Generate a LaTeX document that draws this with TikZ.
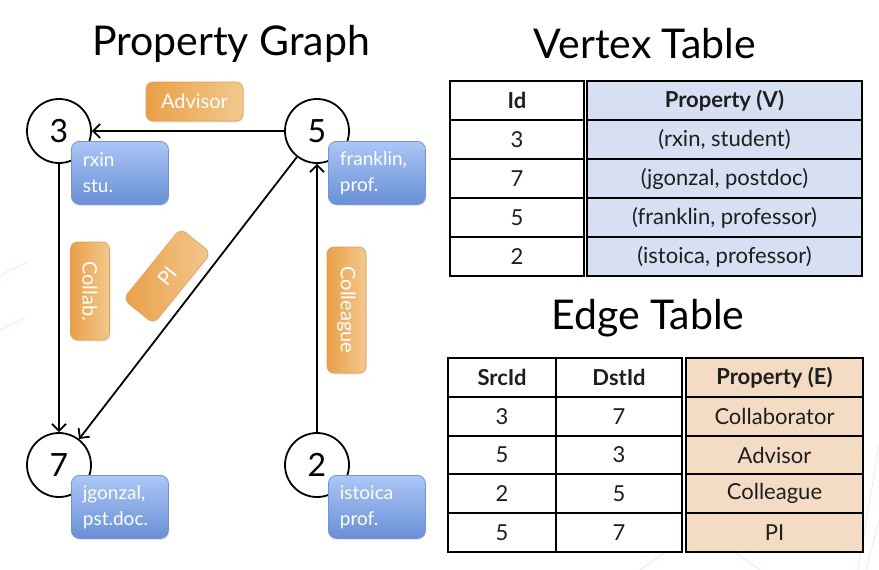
\documentclass[tikz,border=0pt]{standalone}
\usepackage{fontspec}
\setmainfont{Lato}
\usetikzlibrary{arrows.meta,shadows}
\definecolor{vfill}{RGB}{214,224,242}
\definecolor{efill}{RGB}{244,220,196}
\definecolor{bluetop}{RGB}{172,198,246}
\definecolor{bluebot}{RGB}{104,144,214}
\definecolor{blueedge}{RGB}{118,148,208}
\definecolor{orleft}{RGB}{232,160,72}
\definecolor{orright}{RGB}{243,200,142}
\definecolor{oredge}{RGB}{226,158,80}
\definecolor{tabtext}{RGB}{30,30,30}
\definecolor{bgpink}{RGB}{250,215,225}
\tikzset{
  vertex/.style={circle, draw, line width=1.8pt, minimum size=64pt, inner sep=0pt,
    font=\fontsize{32}{36}\selectfont, fill=white},
  propbox/.style={rounded corners=8pt, draw=blueedge, line width=0.8pt,
    top color=bluetop, bottom color=bluebot, text=white, align=left,
    font=\fontsize{19}{26}\selectfont, minimum width=97pt, minimum height=63pt,
    text width=74pt, inner xsep=11pt, anchor=north west,
    drop shadow={opacity=0.2, shadow xshift=0.8pt, shadow yshift=-1.5pt}},
  elabel/.style={rounded corners=7pt, draw=oredge, line width=0.6pt,
    left color=orleft, right color=orright, text=white,
    font=\fontsize{20}{24}\selectfont, inner sep=0pt, minimum height=39pt,
    drop shadow={opacity=0.2, shadow xshift=0.8pt, shadow yshift=-1.5pt}},
  conn/.style={-{Straight Barb[length=7pt,width=14pt]}, line width=1.8pt},
  title/.style={font=\fontsize{41}{44}\selectfont},
  tline/.style={line width=1.4pt},
  th/.style={font=\fontsize{22}{24}\selectfont\bfseries, text=tabtext},
  td/.style={font=\fontsize{22}{24}\selectfont, text=tabtext},
  bgline/.style={draw=bgpink, line width=0.8pt, opacity=0.7},
}
\begin{document}
\begin{tikzpicture}[x=1pt,y=-1pt]
\useasboundingbox (0,0) rectangle (879,570);
\fill[white] (0,0) rectangle (879,570);

% faint background strokes of the slide template
\draw[bgline] (0,275) -- (28,262);
\draw[bgline] (0,330) -- (25,318);
\draw[bgline] (879,445) -- (858,570);
\draw[bgline] (879,520) -- (866,570);
\draw[bgline] (640,570) -- (665,552);
\draw[bgline] (760,570) -- (735,552);

% titles
\node[title] (t1) at (231,44) {Property Graph};
\node[title] (t2) at (645,44) {Vertex Table};
\node[title] (t3) at (648,318) {Edge Table};

% vertices
\node[vertex] (v3) at (59,131) {3};
\node[vertex] (v5) at (317,131) {5};
\node[vertex] (v7) at (59,465) {7};
\node[vertex] (v2) at (317,465) {2};

% edges
\draw[conn] (v5) -- (v3);
\draw[conn] (v3) -- (v7);
\draw[conn] (v5) -- (v7);
\draw[conn] (v2) -- (v5);

% vertex property boxes
\node[propbox] (p3) at (71,141) {rxin\\stu.};
\node[propbox] (p5) at (328,141) {franklin,\\prof.};
\node[propbox] (p7) at (71,475) {jgonzal,\\pst.doc.};
\node[propbox] (p2) at (328,475) {istoica\\prof.};

% edge labels
\node[elabel, minimum width=97pt] (lad) at (194.5,101.5) {Advisor};
\node[elabel, minimum width=98pt, rotate=-90] (lco) at (90,291) {Collab.};
\node[elabel, minimum width=91pt, rotate=51] (lpi) at (167,276) {PI};
\node[elabel, minimum width=126pt, rotate=-90] (lcl) at (346.5,310) {Colleague};

% vertex table
\fill[white] (450,81) rectangle (584,276);
\fill[vfill] (587,81) rectangle (862,276);
\draw[tline] (450,81) rectangle (584,276);
\draw[tline] (587,81) rectangle (862,276);
\foreach \y in {120,159,198,237} {
  \draw[tline] (450,\y) -- (584,\y);
  \draw[tline] (587,\y) -- (862,\y);
}
\node[th] (vh1) at (517,100.5) {Id};
\node[th] (vh2) at (724.5,100.5) {Property (V)};
\foreach \i/\a/\b/\y in {1/3/{(rxin, student)}/139.5, 2/7/{(jgonzal, postdoc)}/178.5,
    3/5/{(franklin, professor)}/217.5, 4/2/{(istoica, professor)}/256.5} {
  \node[td] (va\i) at (517,\y) {\a};
  \node[td] (vb\i) at (724.5,\y) {\b};
}

% edge table
\fill[white] (448,358) rectangle (682,552);
\fill[efill] (686,358) rectangle (863,552);
\draw[tline] (448,358) rectangle (682,552);
\draw[tline] (556,358) -- (556,552);
\draw[tline] (686,358) rectangle (863,552);
\foreach \y in {397,436,474,513} {
  \draw[tline] (448,\y) -- (682,\y);
  \draw[tline] (686,\y) -- (863,\y);
}
\node[th] (eh1) at (502,377.5) {SrcId};
\node[th] (eh2) at (619,377.5) {DstId};
\node[th] (eh3) at (774.5,377.5) {Property (E)};
\foreach \i/\a/\b/\c/\y in {1/3/7/Collaborator/416.5, 2/5/3/Advisor/455,
    3/2/5/Colleague/493.5, 4/5/7/PI/532.5} {
  \node[td] (ea\i) at (502,\y) {\a};
  \node[td] (eb\i) at (619,\y) {\b};
  \node[td] (ec\i) at (774.5,\y) {\c};
}
\end{tikzpicture}
\end{document}
